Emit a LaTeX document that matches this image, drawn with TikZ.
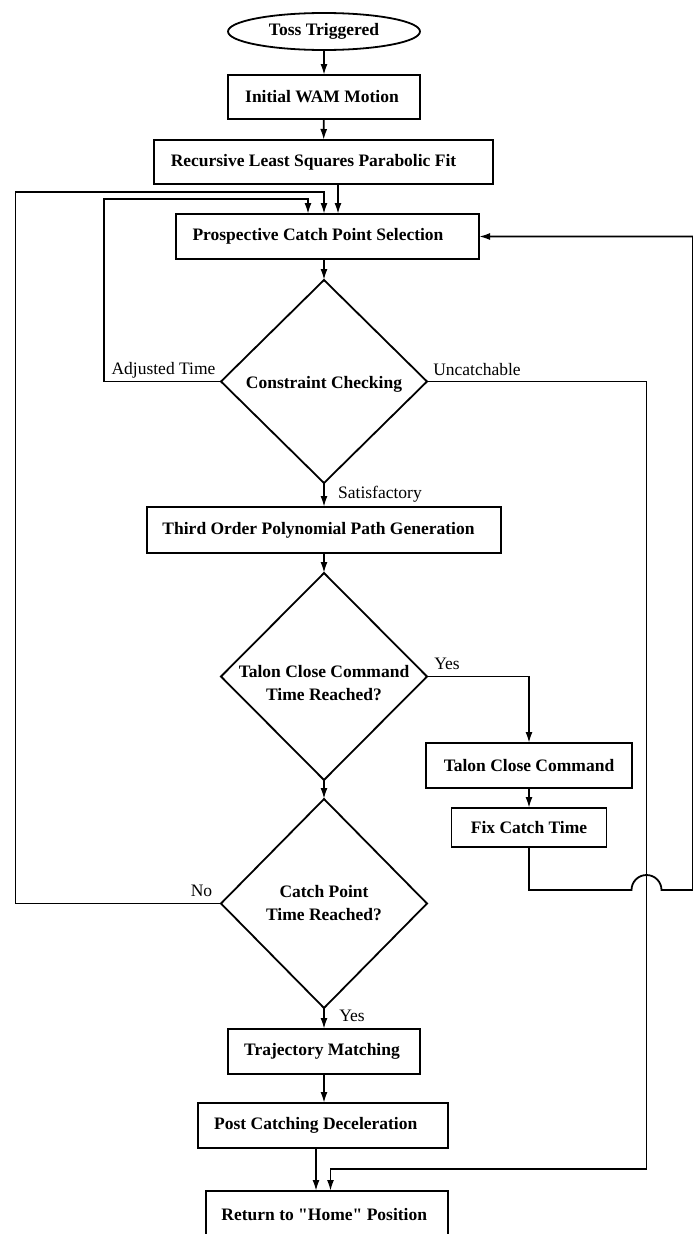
\documentclass[tikz,border=0pt]{standalone}
\usepackage{fontspec}
\setmainfont{Liberation Serif}
\usetikzlibrary{shapes.geometric,arrows.meta,calc}
\tikzset{
  ln/.style={line width=1.8pt, line join=miter},
  arr/.style={ln, -{Latex[length=11pt,width=7pt]}},
  boxnode/.style={draw, ln, rectangle, inner sep=0pt, outer sep=0pt,
    font=\bfseries\fontsize{17.5}{23}\selectfont, align=center},
  dianode/.style={draw, ln, diamond, inner sep=0pt, outer sep=0pt, minimum width=206pt},
  txtnode/.style={inner sep=0pt, font=\bfseries\fontsize{17.5}{23}\selectfont, align=center},
  lbl/.style={inner sep=0pt, font=\fontsize{17.5}{21}\selectfont}
}
\begin{document}
\begin{tikzpicture}[x=1pt,y=-1pt]
\useasboundingbox (0,0) rectangle (693,1234);
\clip (0,0) rectangle (693,1234);
\fill[white] (0,0) rectangle (693,1234);

% nodes
\node[draw, ln, ellipse, inner sep=0pt, minimum width=192pt, minimum height=37pt,
  font=\bfseries\fontsize{17.5}{21}\selectfont] (toss) at (324,31.5) {Toss Triggered};
\node[boxnode, minimum width=192pt, minimum height=44pt] (wam) at (324,97) {\hspace*{-4pt}Initial WAM Motion};
\node[boxnode, minimum width=339pt, minimum height=44pt] (rls) at (323.5,162) {\hspace*{-20pt}Recursive Least Squares Parabolic Fit};
\node[boxnode, minimum width=303pt, minimum height=45pt] (pcs) at (327.5,236.5) {\hspace*{-19pt}Prospective Catch Point Selection};
\node[dianode, minimum height=203pt] (d1) at (324,381.5) {};
\node[txtnode] (d1t) at (324,384) {Constraint Checking};
\node[boxnode, minimum width=354pt, minimum height=46pt] (top) at (324,530) {\hspace*{-11pt}Third Order Polynomial Path Generation};
\node[dianode, minimum height=207pt] (d2) at (324,676.5) {};
\node[txtnode] (d2t) at (324,683) {Talon Close Command\\Time Reached?};
\node[boxnode, minimum width=206pt, minimum height=45pt] (tcc) at (529,765.5) {Talon Close Command};
\node[boxnode, minimum width=155pt, minimum height=39pt] (fix) at (529,827.5) {Fix Catch Time};
\node[dianode, minimum height=209pt] (d3) at (324,903.5) {};
\node[txtnode] (d3t) at (324,903) {Catch Point\\Time Reached?};
\node[boxnode, minimum width=192pt, minimum height=45pt] (traj) at (324,1051.5) {\hspace*{-4pt}Trajectory Matching};
\node[boxnode, minimum width=250pt, minimum height=45pt] (post) at (323.25,1125.5) {\hspace*{-15pt}Post Catching Deceleration};
\node[boxnode, minimum width=242pt, minimum height=48pt] (ret) at (327.25,1215) {\hspace*{-6pt}Return to \textquotedbl Home\textquotedbl{} Position};

% labels
\node[lbl] (la) at (163.5,370) {Adjusted Time};
\node[lbl] (lu) at (477,370) {Uncatchable};
\node[lbl] (ls) at (380,494) {Satisfactory};
\node[lbl] (ly1) at (447,664) {Yes};
\node[lbl] (ln) at (201.5,891) {No};
\node[lbl] (ly2) at (352,1016) {Yes};

% helper coordinates
\coordinate (o1) at (15.5,192);
\coordinate (o2) at (324,192);
\coordinate (i1) at (104,199);
\coordinate (i2) at (308,199);
\coordinate (r1) at (338,214);
\coordinate (u1) at (646.5,1169);
\coordinate (u2) at (330.5,1191);
\coordinate (p1) at (316,1148);
\coordinate (p2) at (316,1191);
\coordinate (j1) at (631.5,890);
\coordinate (j2) at (693,890);

% main flow
\draw[arr] (toss) -- (wam);
\draw[arr] (wam) -- (rls);
\draw[arr] (rls.south -| r1) -- (r1);
\draw[arr] (pcs.south -| d1.north) -- (d1.north);
\draw[arr] (d1.south) -- (top.north -| d1.south);
\draw[arr] (top.south -| d2.north) -- (d2.north);
\draw[arr] (d2.south) -- (d3.north);
\draw[arr] (d3.south) -- (traj.north -| d3.south);
\draw[arr] (traj) -- (post.north -| traj.south);
\draw[arr] (p1) -- (p2);

% loops
\draw[arr] (d1.west) -| (i1) -| (i2) -- (i2 |- pcs.north);
\draw[arr] (d3.west) -| (o1) -| (o2) -- (o2 |- pcs.north);
\draw[arr] (d1.east) -| (u1) -| (u2);

% talon branch
\draw[arr] (d2.east) -| (tcc.north);
\draw[arr] (tcc) -- (fix);
\draw[arr] (fix.south) |- (j1) arc[start angle=180, end angle=0, radius=15pt] -- (j2) |- (pcs.east);
\end{tikzpicture}
\end{document}
